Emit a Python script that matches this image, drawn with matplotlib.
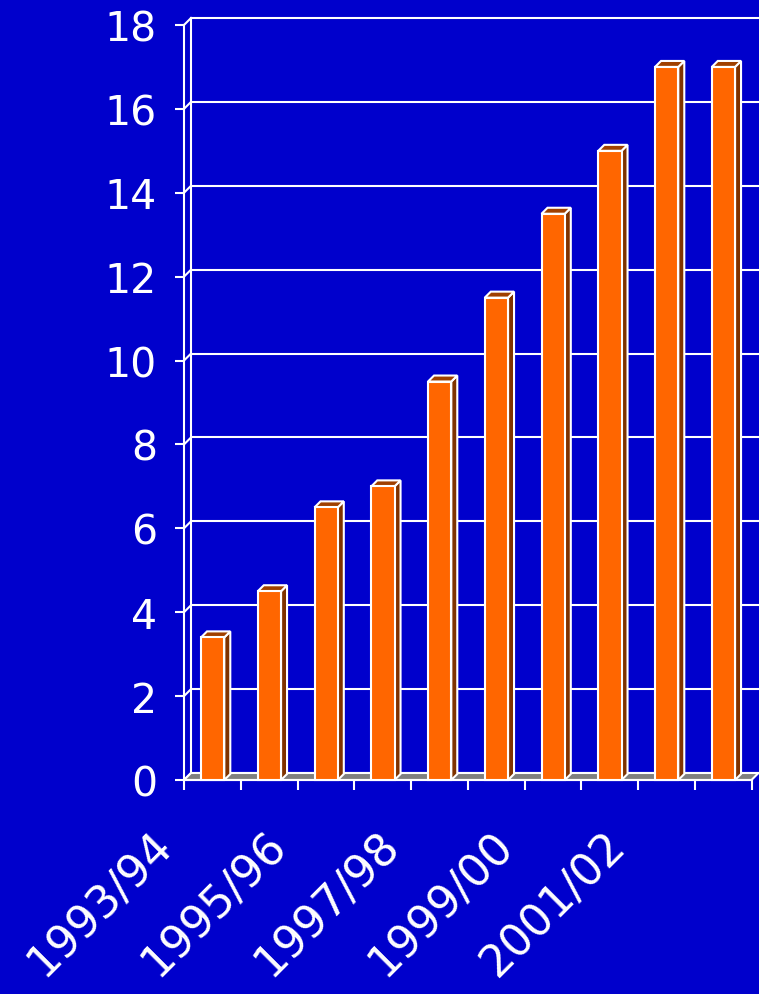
import matplotlib
matplotlib.use("Agg")
import matplotlib.pyplot as plt
from matplotlib.patches import Polygon
from matplotlib.transforms import ScaledTranslation

# Data
seasons = ["1993/94", "1994/95", "1995/96", "1996/97", "1997/98",
           "1998/99", "1999/00", "2000/01", "2001/02", "2002/03"]
values = [3.4, 4.5, 6.5, 7.0, 9.5, 11.5, 13.5, 15.0, 17.0, 17.0]
shown_labels = ["1993/94", "1995/96", "1997/98", "1999/00", "2001/02"]
y_ticks = [0, 2, 4, 6, 8, 10, 12, 14, 16, 18]

# Style
BG = "#0000CC"
FRONT = "#FF6600"
SIDE = "#7F3300"
TOP = "#A04000"
FLOOR = "#808080"
WHITE = "white"
LW = 1.5
FS = 29.5
FS_X = 32

W, H = 759, 995
fig = plt.figure(figsize=(W / 100, H / 100), dpi=100, facecolor=BG)
ax = fig.add_axes([184 / W, 214 / H, 567.5 / W, 755 / H])
ax.patch.set_visible(False)
n = len(values)
ax.set_xlim(0, n)
ax.set_ylim(0, 18)

# pixel -> data unit conversion for the 3-D depth effect
px_x = ax.bbox.width / n
px_y = ax.bbox.height / 18
wall_dx, wall_dy = 7 / px_x, 7 / px_y
bar_dx, bar_dy = 6 / px_x, 6 / px_y

for s in ["top", "right"]:
    ax.spines[s].set_visible(False)
for s in ["left", "bottom"]:
    ax.spines[s].set_color(WHITE)
    ax.spines[s].set_linewidth(LW)

# Back wall gridlines and side-wall connectors
for y in y_ticks:
    ax.plot([wall_dx, n + wall_dx], [y + wall_dy, y + wall_dy],
            color=WHITE, lw=LW, zorder=1, clip_on=False, solid_capstyle="butt")
    ax.plot([0, wall_dx], [y, y + wall_dy], color=WHITE, lw=LW,
            zorder=1, clip_on=False)
ax.plot([wall_dx, wall_dx], [wall_dy, 18 + wall_dy], color=WHITE, lw=LW,
        zorder=1, clip_on=False)

# Floor
ax.add_patch(Polygon([(0, 0), (n, 0), (n + wall_dx, wall_dy), (wall_dx, wall_dy)],
                     closed=True, facecolor=FLOOR, edgecolor=WHITE, lw=LW,
                     zorder=2, clip_on=False))

# 3-D columns
bar_w = 0.41
for i, v in enumerate(values):
    x0 = i + 0.30
    x1 = x0 + bar_w
    side = Polygon([(x1, 0), (x1 + bar_dx, bar_dy), (x1 + bar_dx, v + bar_dy), (x1, v)],
                   closed=True, facecolor=SIDE, edgecolor=WHITE, lw=LW,
                   zorder=3, clip_on=False)
    top = Polygon([(x0, v), (x1, v), (x1 + bar_dx, v + bar_dy), (x0 + bar_dx, v + bar_dy)],
                  closed=True, facecolor=TOP, edgecolor=WHITE, lw=LW,
                  zorder=3, clip_on=False)
    ax.add_patch(side)
    ax.add_patch(top)
ax.bar([i + 0.30 for i in range(n)], values, width=bar_w, align="edge",
       color=FRONT, edgecolor=WHITE, linewidth=LW, zorder=4, clip_on=False)

# Y axis
ax.set_yticks(y_ticks)
ax.set_yticklabels([str(t) for t in y_ticks])
ax.tick_params(axis="y", colors=WHITE, labelcolor=WHITE, labelsize=FS,
               length=6.5, width=LW, pad=13, direction="out")

# X axis: tick marks at category boundaries, labels every other season
ax.set_xticks(range(n + 1))
ax.set_xticklabels([])
ax.tick_params(axis="x", colors=WHITE, length=7.5, width=LW, direction="out")

lab_t = ax.transData + ScaledTranslation(-0.47, -0.58, fig.dpi_scale_trans)
for i, s in enumerate(seasons):
    if s in shown_labels:
        ax.text(i + 0.5, 0, s, transform=lab_t, rotation=45,
                rotation_mode="anchor", ha="right", va="center",
                color=WHITE, fontsize=FS_X)

fig.savefig("out.png", dpi=100, facecolor=BG)
